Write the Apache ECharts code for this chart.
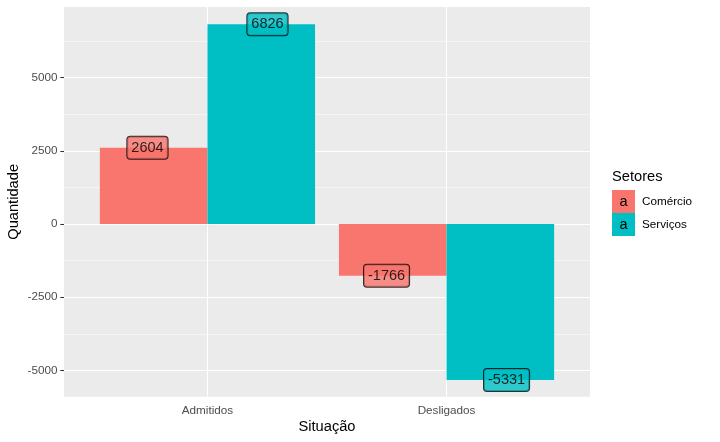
<!DOCTYPE html>
<html>
<head>
<meta charset="utf-8">
<script src="https://cdn.jsdelivr.net/npm/echarts@6/dist/echarts.min.js"></script>
<style>html,body{margin:0;padding:0;background:#fff;}#c{width:720px;height:442px;}</style>
</head>
<body>
<div id="c"></div>
<script>
const categories = ['Admitidos', 'Desligados'];
const seriesNames = ['Comércio', 'Serviços'];
const comercio = [2604, -1766];
const servicos = [6826, -5331];
const yTicks = [-5000, -2500, 0, 2500, 5000];
const yMinor = [-3750, -1250, 1250, 3750, 6250];
const colors = ['#F8766D', '#00BFC4'];

const pos = categories.map((c, i) => i + 1);
const font = 'Liberation Sans, Arial, sans-serif';

function barSeries(name, vals, color) {
  return {
    name: name, type: 'bar', z: 2,
    data: vals.map((v, i) => [pos[i], v]),
    barWidth: 107.6, barGap: '0%',
    itemStyle: { color: color },
    emphasis: { disabled: true }
  };
}
function labelSeries(name, vals, color, off) {
  return {
    name: name + '_lab', type: 'scatter', z: 5, symbolSize: 0,
    data: vals.map((v, i) => [pos[i], v]),
    silent: true,
    label: {
      show: true, position: 'inside', offset: [off, 0],
      formatter: p => String(p.value[1]),
      fontFamily: font, fontSize: 14.5, color: '#000', lineHeight: 16,
      backgroundColor: color, borderColor: '#000', borderWidth: 1, borderRadius: 3,
      padding: [3, 4, 3, 4]
    }
  };
}

const chart = echarts.init(document.getElementById('c'), null, { renderer: 'canvas' });
chart.setOption({
  animation: false,
  backgroundColor: '#fff',
  grid: { left: 64, right: 130, top: 7, bottom: 45.3, show: true, backgroundColor: '#EBEBEB', borderWidth: 0, containLabel: false, outerBoundsMode: 'none' },
  xAxis: {
    type: 'value', min: 0.4, max: 2.6,
    name: 'Situação', nameLocation: 'middle', nameGap: 23, nameMoveOverlap: false,
    nameTextStyle: { fontFamily: font, fontSize: 14.67, color: '#000' },
    axisLine: { show: false },
    splitLine: { show: false },
    axisTick: { show: true, customValues: pos, length: 3.7, lineStyle: { color: '#333', width: 1.07 } },
    axisLabel: { customValues: pos, formatter: v => categories[Math.round(v) - 1] || '', fontFamily: font, fontSize: 11.7, color: '#4D4D4D', margin: 8 }
  },
  yAxis: {
    type: 'value', min: -5898, max: 7411,
    name: 'Quantidade', nameLocation: 'middle', nameGap: 43, nameRotate: 90, nameMoveOverlap: false,
    nameTextStyle: { fontFamily: font, fontSize: 14.67, color: '#000' },
    axisLine: { show: false },
    splitLine: { show: false },
    axisTick: { show: true, customValues: yTicks, length: 3.7, lineStyle: { color: '#333', width: 1.07 } },
    axisLabel: { customValues: yTicks, formatter: v => String(v), fontFamily: font, fontSize: 11.7, color: '#4D4D4D', margin: 6.5 }
  },
  legend: {
    data: seriesNames, orient: 'vertical', left: 612, top: 190, itemGap: 0, padding: 0,
    itemWidth: 23, itemHeight: 23, icon: 'rect', selectedMode: false,
    textStyle: { fontFamily: font, fontSize: 11.7, color: '#000', padding: [0, 0, 0, 2] }
  },
  graphic: [
    { type: 'text', left: 612, top: 169, z: 100, style: { text: 'Setores', font: '14.67px ' + font, fill: '#000' } },
    { type: 'text', left: 619.5, top: 194, z: 100, style: { text: 'a', font: '14.5px ' + font, fill: '#000' } },
    { type: 'text', left: 619.5, top: 217, z: 100, style: { text: 'a', font: '14.5px ' + font, fill: '#000' } }
  ],
  series: [
    {
      name: 'grid', type: 'line', data: [], z: 1, silent: true,
      markLine: {
        silent: true, symbol: 'none', z: 1, animation: false,
        label: { show: false },
        emphasis: { disabled: true },
        data: [
          ...yMinor.map(v => ({ yAxis: v, lineStyle: { color: '#fff', width: 0.53, type: 'solid' } })),
          ...yTicks.map(v => ({ yAxis: v, lineStyle: { color: '#fff', width: 1.07, type: 'solid' } })),
          ...pos.map(v => ({ xAxis: v, lineStyle: { color: '#fff', width: 1.07, type: 'solid' } }))
        ]
      }
    },
    barSeries(seriesNames[0], comercio, colors[0]),
    barSeries(seriesNames[1], servicos, colors[1]),
    labelSeries(seriesNames[0], comercio, colors[0], -60),
    labelSeries(seriesNames[1], servicos, colors[1], 60)
  ]
});
</script>
</body>
</html>
